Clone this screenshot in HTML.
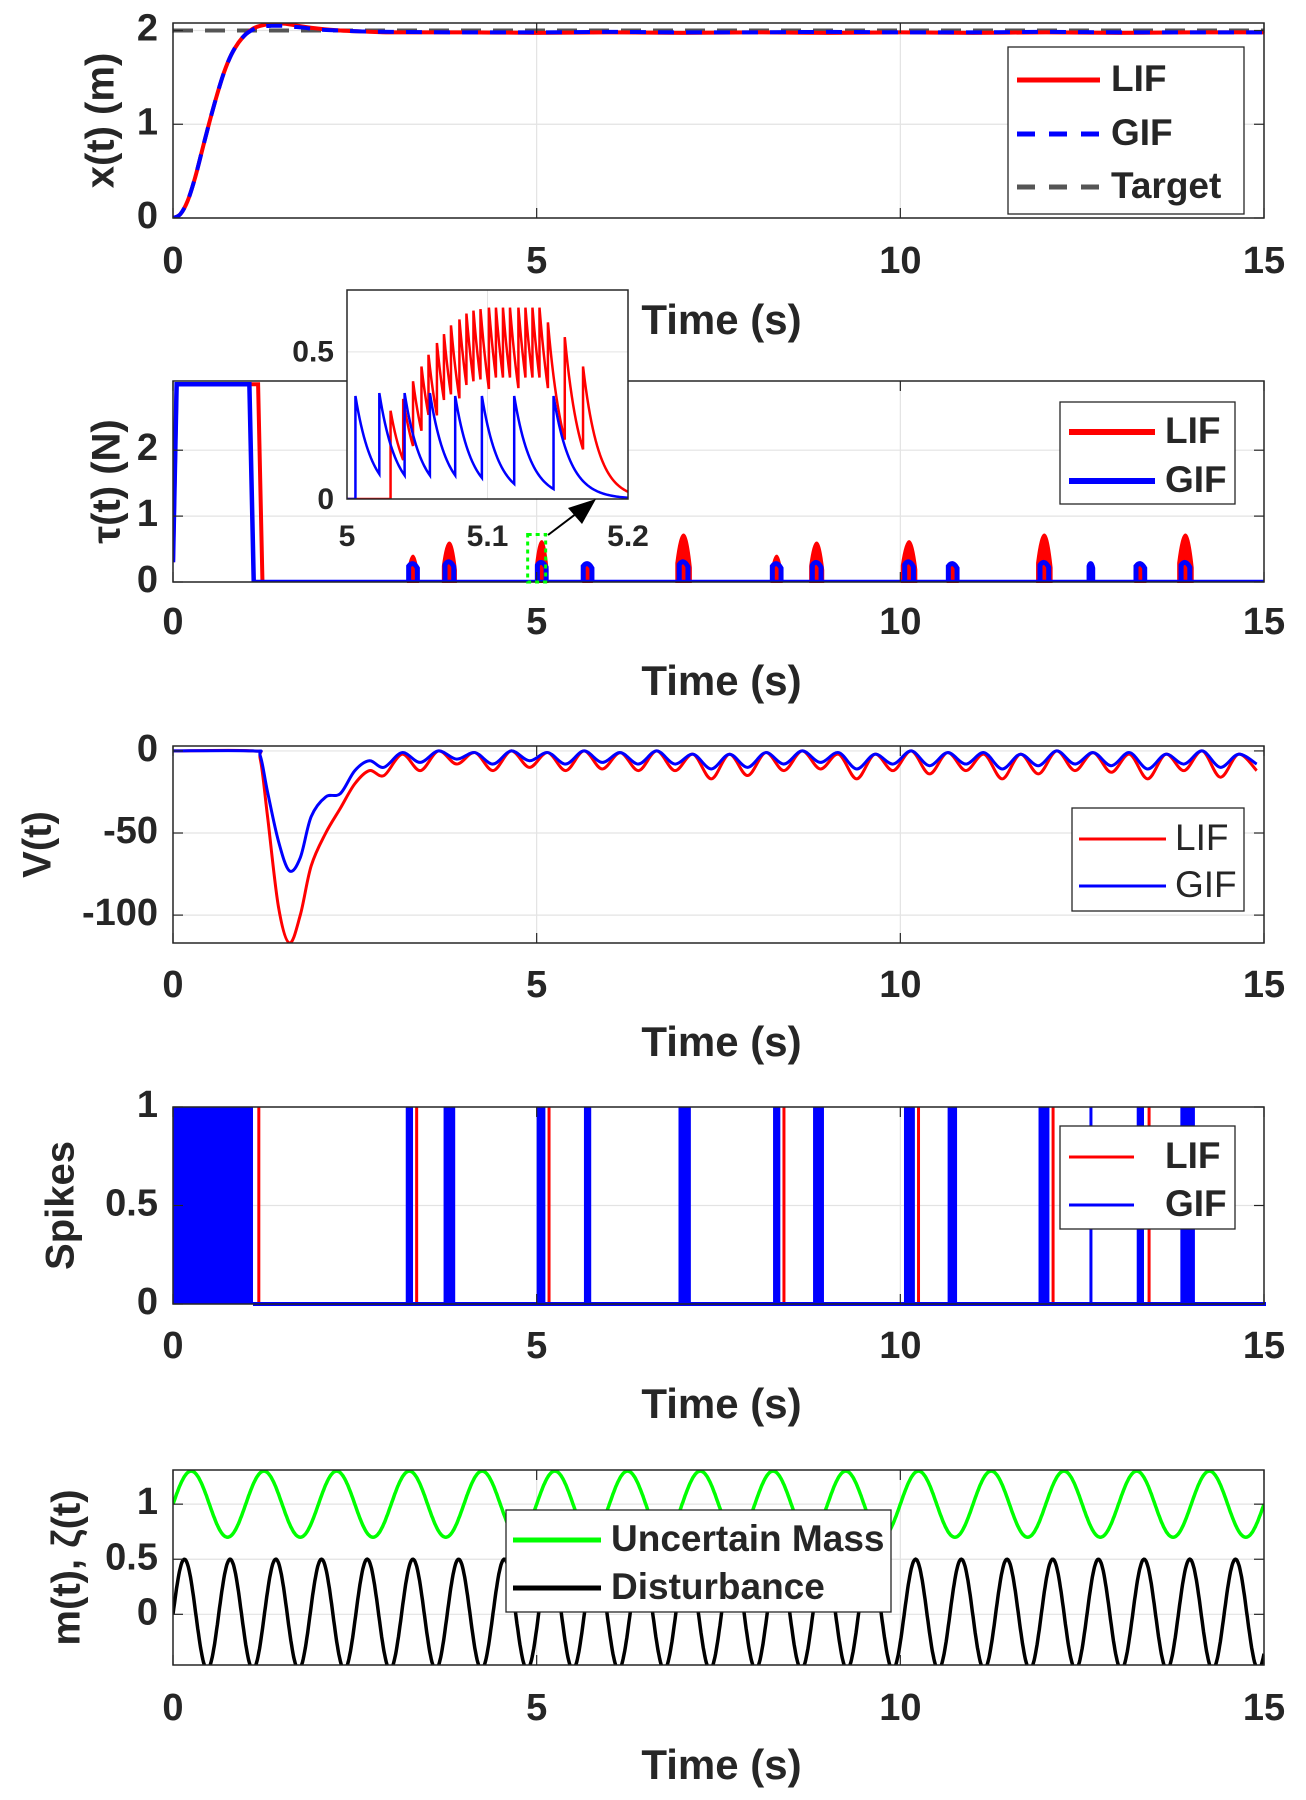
<!DOCTYPE html>
<html><head><meta charset="utf-8"><style>
html,body{margin:0;padding:0;background:#fff}
svg{display:block;font-family:"Liberation Sans",sans-serif}
</style></head><body>
<svg id="fig" width="1306" height="1800" viewBox="0 0 1306 1800" xmlns="http://www.w3.org/2000/svg"></svg>
<script>
// ---------- data ----------
const xTicks = [0,5,10,15];
const xT = [0,0.1,0.2,0.3,0.4,0.5,0.6,0.7,0.8,0.9,1.0,1.1,1.2,1.35,1.5,1.65,1.8,2.0,2.3,2.6,3,4,5,6,7,8,9,10,11,12,13,14,15];
const xLif = [0,0.04,0.18,0.42,0.72,1.02,1.3,1.55,1.74,1.87,1.96,2.02,2.05,2.07,2.075,2.06,2.04,2.02,2.0,1.99,1.98,1.98,1.975,1.98,1.975,1.98,1.975,1.98,1.975,1.98,1.975,1.98,1.98];
const xGif = [0,0.04,0.18,0.42,0.72,1.02,1.3,1.55,1.74,1.87,1.96,2.01,2.04,2.05,2.05,2.04,2.03,2.01,2.0,1.99,1.985,1.98,1.98,1.985,1.98,1.98,1.985,1.98,1.98,1.985,1.98,1.98,1.98];
const target = 2;

const burstT   = [3.3,3.8,5.07,5.7,7.02,8.3,8.85,10.12,10.72,11.98,12.62,13.3,13.92];
const burstW   = [0.14,0.18,0.16,0.12,0.2,0.14,0.18,0.2,0.14,0.2,0.05,0.14,0.2];
const lifPeak  = [0.4,0.6,0.62,0.25,0.72,0.4,0.6,0.62,0.3,0.72,0.0,0.3,0.72];
const gifPeak  = [0.3,0.33,0.32,0.3,0.33,0.3,0.32,0.33,0.3,0.32,0.3,0.3,0.32];
const tauHigh = 3, gifOff = 1.05, lifOff = 1.17;

const insetGifT = [5.006,5.023,5.041,5.059,5.077,5.096,5.119,5.147];
const insetGifP = [0.35,0.36,0.36,0.36,0.35,0.35,0.35,0.35];
const insetLifT = [5.031,5.040,5.047,5.053,5.058,5.064,5.069,5.074,5.080,5.085,5.090,5.095,5.101,5.106,5.111,5.116,5.122,5.127,5.132,5.137,5.143,5.155,5.168];
const insetLifP = [0.3,0.34,0.4,0.45,0.49,0.53,0.56,0.59,0.61,0.63,0.64,0.645,0.65,0.65,0.65,0.65,0.65,0.65,0.65,0.65,0.6,0.55,0.45];

const vT1 = [0,1.1,1.2,1.3,1.45,1.6,1.75,1.9,2.1,2.3,2.5,2.7];
const vLif1 = [0,0,-5,-40,-95,-117,-100,-70,-50,-35,-20,-12];
const vGif1 = [0,0,-3,-25,-55,-73,-65,-40,-28,-26,-12,-6];
const vGridStart = 2.9, vGridStep = 0.25;
const vLifOsc = [-15,-2,-12,0,-8,-1,-12,0,-10,-1,-12,0,-11,-1,-12,0,-12,-2,-17,-2,-15,-1,-12,0,-11,-2,-17,-2,-12,0,-14,-1,-12,-2,-17,-2,-14,0,-12,-1,-13,-2,-17,-2,-12,0,-16,-2,-12];
const vGifOsc = [-10,-1,-7,0,-5,-1,-8,0,-6,-1,-8,0,-7,-1,-8,0,-8,-2,-11,-2,-10,-1,-8,0,-7,-1,-11,-2,-8,0,-9,-1,-8,-1,-11,-2,-9,0,-8,-1,-9,-1,-11,-2,-8,0,-10,-2,-8];

const gifSpikeS = [3.2,3.72,5.0,5.65,6.95,8.25,8.8,10.05,10.65,11.9,12.6,13.25,13.85];
const gifSpikeE = [3.3,3.88,5.12,5.75,7.12,8.35,8.95,10.2,10.78,12.05,12.64,13.35,14.05];
const lifSpikeT = [1.18,3.35,5.17,8.4,10.25,12.1,13.42];
const gifDense = [0,1.1];

const massParams = [1.0,0.3,6.2832,0];   // offset, amplitude, omega, phase
const distParams = [0.0,0.5,10.0,0];

// ---------- layout ----------
const L=173,R=1264;
const panels=[
 {top:23,bot:218,y0:0,y1:2.08,ticks:[0,1,2],lab:['0','1','2'],tl:263,tt:323},
 {top:381,bot:582,y0:0,y1:3.05,ticks:[0,1,2],lab:['0','1','2'],tl:624,tt:684},
 {top:746,bot:943,y0:-117,y1:3,ticks:[-100,-50,0],lab:['-100','-50','0'],tl:987,tt:1045},
 {top:1107,bot:1304,y0:0,y1:1,ticks:[0,0.5,1],lab:['0','0.5','1'],tl:1348,tt:1407},
 {top:1470,bot:1665,y0:-0.46,y1:1.31,ticks:[0,0.5,1],lab:['0','0.5','1'],tl:1710,tt:1768}];
const NS='http://www.w3.org/2000/svg';
const svg=document.getElementById('fig');
function mk(tag,attrs,parent){const e=document.createElementNS(NS,tag);for(const k in attrs)e.setAttribute(k,attrs[k]);(parent||svg).appendChild(e);return e;}
const sx=t=>L+(t-0)/15*(R-L);
const syF=p=>v=>p.bot-(v-p.y0)/(p.y1-p.y0)*(p.bot-p.top);
function crPath(xs,ys){let d='M'+xs[0]+','+ys[0];for(let i=0;i<xs.length-1;i++){const x0=xs[Math.max(i-1,0)],y0=ys[Math.max(i-1,0)],x1=xs[i],y1=ys[i],x2=xs[i+1],y2=ys[i+1],x3=xs[Math.min(i+2,xs.length-1)],y3=ys[Math.min(i+2,xs.length-1)];d+=' C'+(x1+(x2-x0)/6)+','+(y1+(y2-y0)/6)+' '+(x2-(x3-x1)/6)+','+(y2-(y3-y1)/6)+' '+x2+','+y2;}return d;}
function txt(s,x,y,size,attrs,parent){const e=mk('text',Object.assign({x:x,y:y,'font-size':size,'font-weight':'bold','dominant-baseline':'middle',fill:'#262626'},attrs||{}),parent);e.textContent=s;return e;}

const ylabels=['x(t) (m)','\u03C4(t) (N)','V(t)','Spikes','m(t), \u03B6(t)'];
const ylx=[103,109,40,63,69];
panels.forEach((p,i)=>{
  const g=mk('g',{});
  
  
  p.g=g;p.sy=syF(p);
  mk('rect',{x:L,y:p.top,width:R-L,height:p.bot-p.top,fill:'#fff'},g);
  xTicks.forEach(t=>{mk('line',{x1:sx(t),x2:sx(t),y1:p.top,y2:p.bot,stroke:'#e3e3e3','stroke-width':1.2},g);
    const tl=txt(String(t),sx(t),p.tl,38,{'text-anchor':'middle'},g);
    });
  p.ticks.forEach((v,j)=>{mk('line',{x1:L,x2:R,y1:p.sy(v),y2:p.sy(v),stroke:'#e3e3e3','stroke-width':1.2},g);
    const yl=txt(p.lab[j],158,p.sy(v),38,{'text-anchor':'end'},g);
    });
  const xt=txt('Time (s)',(L+R)/2+3,p.tt,42,{'text-anchor':'middle'},svg);
  
  const yt=txt(ylabels[i],ylx[i],(p.top+p.bot)/2,40,{'text-anchor':'middle',transform:'rotate(-90 '+ylx[i]+' '+(p.top+p.bot)/2+')'},svg);
  
});
function frame(p){
  const b=mk('rect',{x:L,y:p.top,width:R-L,height:p.bot-p.top,fill:'none',stroke:'#262626','stroke-width':1.5},svg);
  
  xTicks.forEach(t=>{mk('line',{x1:sx(t),x2:sx(t),y1:p.bot,y2:p.bot-10,stroke:'#262626','stroke-width':1.2});mk('line',{x1:sx(t),x2:sx(t),y1:p.top,y2:p.top+10,stroke:'#262626','stroke-width':1.2});});
  p.ticks.forEach(v=>{mk('line',{x1:L,x2:L+10,y1:p.sy(v),y2:p.sy(v),stroke:'#262626','stroke-width':1.2});mk('line',{x1:R,x2:R-10,y1:p.sy(v),y2:p.sy(v),stroke:'#262626','stroke-width':1.2});});
}
function clip(p,id){const c=mk('clipPath',{id:id});mk('rect',{x:L,y:p.top,width:R-L,height:p.bot-p.top},c);return 'url(#'+id+')';}
function legend(x,y,w,h,entries,bold){
  const g=mk('g',{});
  
  
  mk('rect',{x:x,y:y,width:w,height:h,fill:'#fff',stroke:'#262626','stroke-width':1.3},g);
  entries.forEach(e=>{
    const ln=mk('line',{x1:e.x1,x2:e.x2,y1:e.y,y2:e.y,stroke:e.c,'stroke-width':e.w,'stroke-dasharray':e.d||'none'},g);
    
    const t=txt(e.s,e.tx,e.y+1,37,{'font-weight':bold?'bold':'normal'},g);
    
  });
}

// ---------- panel 1 ----------
{const p=panels[0];const cp=clip(p,'c1');
 const tg=mk('line',{x1:L,x2:R,y1:p.sy(target),y2:p.sy(target),stroke:'#555','stroke-width':4,'stroke-dasharray':'20,12','clip-path':cp});
 
 const l=mk('path',{d:crPath(xT.map(sx),xLif.map(p.sy)),fill:'none',stroke:'#f00','stroke-width':4,'clip-path':cp});
 
 const gl=mk('path',{d:crPath(xT.map(sx),xGif.map(p.sy)),fill:'none',stroke:'#00f','stroke-width':4,'stroke-dasharray':'16,12','clip-path':cp});
 
 frame(p);
 legend(1008,47,236,167,[{x1:1017,x2:1100,y:80,c:'#f00',w:5,s:'LIF',tx:1111},{x1:1017,x2:1100,y:134,c:'#00f',w:5,d:'18,14',s:'GIF',tx:1111},{x1:1017,x2:1100,y:187,c:'#555',w:5,d:'18,14',s:'Target',tx:1111}],true);
}
// ---------- panel 2 ----------
{const p=panels[1];const cp=clip(p,'c2');const sy=p.sy;
 const lif=mk('path',{d:`M${sx(0)},${sy(0.3)} L${sx(0.05)},${sy(tauHigh)} L${sx(lifOff)},${sy(tauHigh)} L${sx(lifOff+0.06)},${sy(0)} L${R},${sy(0)}`,fill:'none',stroke:'#f00','stroke-width':4,'clip-path':cp});
 
 burstT.forEach((t,i)=>{const w=burstW[i];if(lifPeak[i]<=0)return;
   const b=mk('path',{d:`M${sx(t-w/2)},${sy(0)} L${sx(t-w/2)},${sy(lifPeak[i]*0.4)} Q${sx(t-w/4)},${sy(lifPeak[i])} ${sx(t)},${sy(lifPeak[i])} Q${sx(t+w/4)},${sy(lifPeak[i])} ${sx(t+w/2)},${sy(lifPeak[i]*0.3)} L${sx(t+w/2)},${sy(0)} Z`,fill:'#f00',stroke:'#f00','stroke-width':2});
   });
 const gif=mk('path',{d:`M${sx(0)},${sy(0.3)} L${sx(0.05)},${sy(tauHigh)} L${sx(gifOff)},${sy(tauHigh)} L${sx(gifOff+0.06)},${sy(0)} L${R},${sy(0)}`,fill:'none',stroke:'#00f','stroke-width':4.5,'clip-path':cp});
 
 burstT.forEach((t,i)=>{const w=Math.min(burstW[i],0.12);
   const b=mk('path',{d:`M${sx(t-w/2)},${sy(0)} L${sx(t-w/2)},${sy(gifPeak[i]*0.8)} Q${sx(t)},${sy(gifPeak[i]*1.1)} ${sx(t+w/2)},${sy(gifPeak[i]*0.7)} L${sx(t+w/2)},${sy(0)}`,fill:'none',stroke:'#00f','stroke-width':5});
   });
 frame(p);
 const zr=mk('rect',{x:sx(5.0)-9,y:sy(0.72),width:18,height:sy(0)-sy(0.72),fill:'none',stroke:'#0f0','stroke-width':3,'stroke-dasharray':'4,4'});
 
 legend(1060,402,175,102,[{x1:1069,x2:1155,y:432,c:'#f00',w:6,s:'LIF',tx:1165},{x1:1069,x2:1155,y:481,c:'#00f',w:6,s:'GIF',tx:1165}],true);
 // inset
 const IL=347,IR=628,IT=290,IB=499,ix0=5,ix1=5.2,iy0=0,iy1=0.71;
 const ix=t=>IL+(t-ix0)/(ix1-ix0)*(IR-IL), iy=v=>IB-(v-iy0)/(iy1-iy0)*(IB-IT);
 const ig=mk('g',{});
 mk('rect',{x:IL,y:IT,width:IR-IL,height:IB-IT,fill:'#fff'},ig);
 [5.1].forEach(t=>mk('line',{x1:ix(t),x2:ix(t),y1:IT,y2:IB,stroke:'#e3e3e3'},ig));
 mk('line',{x1:IL,x2:IR,y1:iy(0.5),y2:iy(0.5),stroke:'#e3e3e3'},ig);
 const ic=mk('clipPath',{id:'ci'});mk('rect',{x:IL,y:IT,width:IR-IL,height:IB-IT},ic);
 function trace(T,P,start,tau){let d=`M${ix(ix0)},${iy(0)} L${ix(T[0])},${iy(0)}`;
   for(let i=0;i<T.length;i++){const tEnd=i<T.length-1?T[i+1]:ix1;d+=` L${ix(T[i])},${iy(P[i])}`;
     for(let t=T[i]+0.001;t<=tEnd+1e-9;t+=0.001){d+=` L${ix(t)},${iy(P[i]*Math.exp(-(t-T[i])/tau))}`;}}
   return d;}
 const ir=mk('path',{d:trace(insetLifT,insetLifP,5,0.011),fill:'none',stroke:'#f00','stroke-width':2.5,'clip-path':'url(#ci)'},ig);
 
 const ib=mk('path',{d:trace(insetGifT,insetGifP,5,0.012),fill:'none',stroke:'#00f','stroke-width':2.5,'clip-path':'url(#ci)'},ig);
 
 mk('rect',{x:IL,y:IT,width:IR-IL,height:IB-IT,fill:'none',stroke:'#262626','stroke-width':1.5},ig);
 [['5',5],['5.1',5.1],['5.2',5.2]].forEach(a=>{const t=txt(a[0],ix(a[1]),538,30,{'text-anchor':'middle'},ig);});
 [['0',0],['0.5',0.5]].forEach(a=>{const t=txt(a[0],334,iy(a[1])+2,30,{'text-anchor':'end'},ig);});
 const ar=mk('g',{});
 mk('line',{x1:548,y1:535,x2:585,y2:507,stroke:'#000','stroke-width':2},ar);
 mk('polygon',{points:'596,499 568,508 582,524',fill:'#000'},ar);
}
// ---------- panel 3 ----------
{const p=panels[2];const cp=clip(p,'c3');
 const tt=vT1.concat(vLifOsc.map((_,i)=>vGridStart+i*vGridStep));
 const lv=vLif1.concat(vLifOsc), gv=vGif1.concat(vGifOsc);
 const a=mk('path',{d:crPath(tt.map(sx),lv.map(p.sy)),fill:'none',stroke:'#f00','stroke-width':3,'clip-path':cp});
 
 const b=mk('path',{d:crPath(tt.map(sx),gv.map(p.sy)),fill:'none',stroke:'#00f','stroke-width':3,'clip-path':cp});
 
 frame(p);
 legend(1072,808,172,103,[{x1:1079,x2:1166,y:839,c:'#f00',w:3,s:'LIF',tx:1175},{x1:1079,x2:1166,y:886,c:'#00f',w:3,s:'GIF',tx:1175}],false);
}
// ---------- panel 4 ----------
{const p=panels[3];const sy=p.sy;
 const d=mk('rect',{x:sx(gifDense[0]),y:sy(1),width:sx(gifDense[1])-sx(gifDense[0]),height:sy(0)-sy(1),fill:'#00f'});
 
 lifSpikeT.forEach(t=>{const l=mk('line',{x1:sx(t),x2:sx(t),y1:sy(1),y2:sy(0),stroke:'#f00','stroke-width':3});
   });
 gifSpikeS.forEach((s,i)=>{const r=mk('rect',{x:sx(s),y:sy(1),width:Math.max(sx(gifSpikeE[i])-sx(s),3),height:sy(0)-sy(1),fill:'#00f'});
   });
 const bl=mk('line',{x1:sx(1.1),x2:R+2,y1:sy(0),y2:sy(0),stroke:'#00f','stroke-width':4});
 
 frame(p);
 legend(1060,1126,175,103,[{x1:1069,x2:1134,y:1157,c:'#f00',w:3,s:'LIF',tx:1165},{x1:1069,x2:1134,y:1205,c:'#00f',w:3,s:'GIF',tx:1165}],true);
}
// ---------- panel 5 ----------
{const p=panels[4];const cp=clip(p,'c5');
 function sine(par){const xs=[],ys=[];for(let t=0;t<=15.0001;t+=0.01){xs.push(sx(t));ys.push(p.sy(par[0]+par[1]*Math.sin(par[2]*t+par[3])));}return 'M'+xs.map((x,i)=>x.toFixed(1)+','+ys[i].toFixed(1)).join(' L');}
 const m=mk('path',{d:sine(massParams),fill:'none',stroke:'#0f0','stroke-width':3.5,'clip-path':cp});
 
 const k=mk('path',{d:sine(distParams),fill:'none',stroke:'#000','stroke-width':3.5,'clip-path':cp});
 
 frame(p);
 legend(506,1510,385,102,[{x1:513,x2:601,y:1540,c:'#0f0',w:5,s:'Uncertain Mass',tx:611},{x1:513,x2:601,y:1588,c:'#000',w:5,s:'Disturbance',tx:611}],true);
}
</script>
</body></html>
